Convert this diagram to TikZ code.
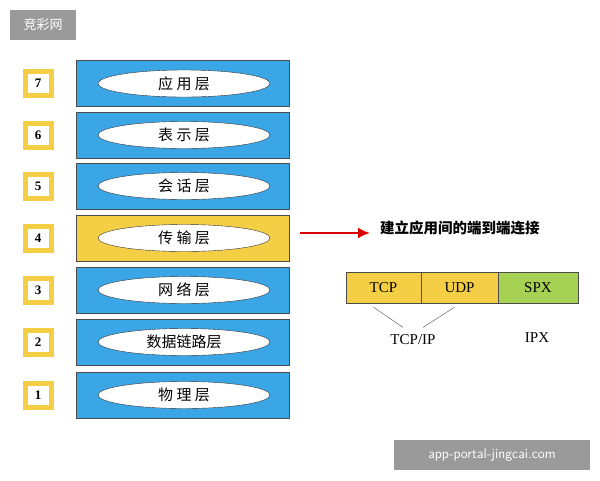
\documentclass[tikz,border=0pt]{standalone}
\usepackage{fontspec}
\usetikzlibrary{shapes.geometric,arrows.meta}
\setmainfont{Liberation Serif}
\newfontfamily\cjk{Noto Sans CJK SC}
\definecolor{lblue}{HTML}{3AA6E6}
\definecolor{lyel}{HTML}{F4CF45}
\definecolor{lgrn}{HTML}{A6D152}
\definecolor{wm}{HTML}{9A9A9A}
\begin{document}
\begin{tikzpicture}[x=1pt,y=-1pt,
  layer/.style={draw=black!70,line width=0.8pt,minimum width=213pt,minimum height=46pt,inner sep=0pt},
  pill/.style={draw=black!80,fill=white,ellipse,minimum width=172pt,minimum height=27pt,inner sep=0pt,font=\cjk\fontsize{15}{15}\selectfont},
  num/.style={draw=lyel,line width=5pt,fill=white,minimum width=26pt,minimum height=24pt,inner sep=0pt,font=\bfseries\fontsize{13}{13}\selectfont},
  cell/.style={draw=black!70,minimum height=31pt,inner sep=0pt,font=\fontsize{15}{15}\selectfont}]
\useasboundingbox (0,0) rectangle (600,480);
\fill[white] (0,0) rectangle (600,480);
\foreach \n/\y/\t/\c in {7/83.5/应 用 层/lblue,6/135/表 示 层/lblue,5/186/会 话 层/lblue,4/238/传 输 层/lyel,3/290/网 络 层/lblue,2/342/数据链路层/lblue,1/395/物 理 层/lblue}{
  \node[layer,fill=\c] (L\n) at (182.5,\y) {};
  \node[pill] (P\n) at (184,\y) {\t};
  \node[num] (N\n) at (38,\y) {\n};
}
\node[font=\cjk\bfseries\fontsize{14.5}{14.5}\selectfont,anchor=west,inner sep=0pt] (goal) at (380,228) {建立应用间的端到端连接};
\coordinate (as) at (300,233);
\coordinate (ae) at (370,233);
\draw[red!85!black,line width=2.2pt,-{Latex[length=12pt,width=11pt]}] (as) -- (ae);
\node[cell,fill=lyel,minimum width=75pt] (tcp) at (383.5,287.5) {TCP};
\node[cell,fill=lyel,minimum width=77pt] (udp) at (459.5,287.5) {UDP};
\node[cell,fill=lgrn,minimum width=80pt] (spx) at (538,287.5) {SPX};
\node[font=\fontsize{15}{15}\selectfont] (tcpip) at (413,340) {TCP/IP};
\node[font=\fontsize{15}{15}\selectfont] (ipx) at (537,338) {IPX};
\draw[black!70] ([xshift=-10pt,yshift=-4pt]tcp.south) -- ([xshift=-10pt,yshift=4pt]tcpip.north);
\draw[black!70] ([xshift=-5pt,yshift=-4pt]udp.south) -- ([xshift=10pt,yshift=4pt]tcpip.north);
\node[fill=wm,text=white,minimum width=66pt,minimum height=30pt,font=\cjk\fontsize{13}{13}\selectfont] (w1) at (43,25) {竞彩网};
\node[fill=wm,text=white,minimum width=196pt,minimum height=30pt,font=\sffamily\fontsize{14}{14}\selectfont] (w2) at (492,455) {app-portal-jingcai.com};
\end{tikzpicture}
\end{document}
